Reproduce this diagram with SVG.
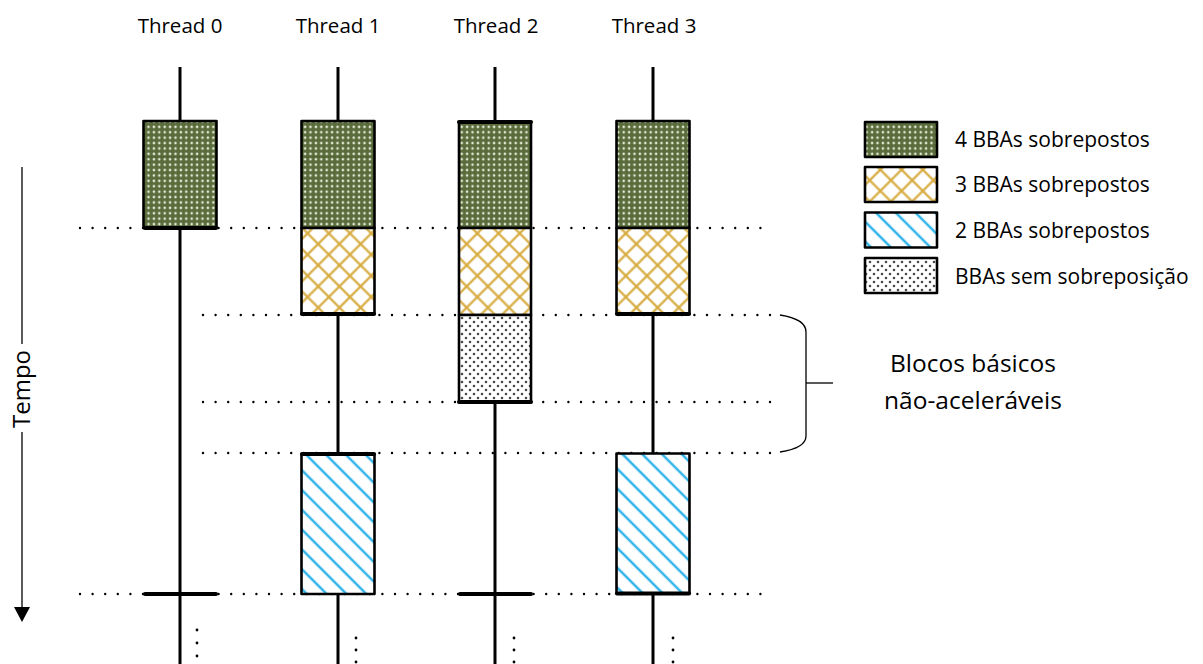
<svg xmlns="http://www.w3.org/2000/svg" width="1203" height="664" viewBox="0 0 1203 664">
  <style>
    text { font-family: "Open Sans", "Liberation Sans", sans-serif; fill: #000; }
    .hdr { font-size: 20.5px; text-anchor: middle; }
    .leg { font-size: 21px; }
    .note { font-size: 24.5px; text-anchor: middle; }
    .thread { stroke: #000; stroke-width: 3; fill: none; }
    .grid { stroke: #000; stroke-width: 2.4; stroke-linecap: round; stroke-dasharray: 0 12.6; fill: none; }
    .blk { stroke: #000; stroke-width: 2.6; stroke-linejoin: round; }
    .bar { stroke: #000; stroke-width: 4; stroke-linecap: round; }
    .g4 { fill: url(#p4); }
    .g3 { fill: url(#p3); }
    .g2 { fill: url(#p2); }
    .g1 { fill: url(#p1); }
    .ell { fill: #000; }
    .thin { stroke: #000; stroke-width: 1.3; fill: none; }
  </style>
  <defs>
    <!-- dotted grid on dark olive -->
    <pattern id="p4" width="5.4" height="5.4" patternUnits="userSpaceOnUse">
      <rect width="5.4" height="5.4" fill="#5a6c3b"/>
      <circle cx="2.7" cy="2.7" r="1.3" fill="#e4ead6"/>
    </pattern>
    <!-- gold diamond crosshatch -->
    <pattern id="p3" width="15" height="15" patternUnits="userSpaceOnUse" patternTransform="rotate(45)">
      <rect width="15" height="15" fill="#fff"/>
      <line x1="0" y1="7.5" x2="15" y2="7.5" stroke="#d6aa3c" stroke-width="2.2"/>
      <line x1="7.5" y1="0" x2="7.5" y2="15" stroke="#d6aa3c" stroke-width="2.2"/>
    </pattern>
    <!-- light blue wide diagonal -->
    <pattern id="p2" width="14" height="14" patternUnits="userSpaceOnUse" patternTransform="rotate(-45)">
      <rect width="14" height="14" fill="#fff"/>
      <line x1="7" y1="0" x2="7" y2="14" stroke="#30b4ea" stroke-width="2.5"/>
    </pattern>
    <!-- sparse grey dots -->
    <pattern id="p1" width="8" height="8" patternUnits="userSpaceOnUse">
      <rect width="8" height="8" fill="#fff"/>
      <circle cx="2" cy="2" r="1.3" fill="#4a4a4a"/>
      <circle cx="6" cy="6" r="1.3" fill="#4a4a4a"/>
    </pattern>
  </defs>

  <!-- column headings -->
  <g id="headers">
    <text class="hdr" x="180" y="33">Thread 0</text>
    <text class="hdr" x="338" y="33">Thread 1</text>
    <text class="hdr" x="496" y="33">Thread 2</text>
    <text class="hdr" x="654" y="33">Thread 3</text>
  </g>

  <!-- time axis -->
  <g id="tempo">
    <line class="thin" x1="22" y1="167" x2="22" y2="344"/>
    <line class="thin" x1="22" y1="432" x2="22" y2="608"/>
    <path d="M14,607 L30,607 L22,622 Z" fill="#000"/>
    <text x="0" y="0" font-size="24" text-anchor="middle" transform="translate(30,389) rotate(-90)">Tempo</text>
  </g>

  <!-- connectors: dotted sync lines and thread lifelines -->
  <g id="connectors">
    <line class="grid" x1="80" y1="228" x2="770" y2="228"/>
    <line class="grid" x1="203" y1="315" x2="770" y2="315"/>
    <line class="grid" x1="203" y1="402" x2="770" y2="402"/>
    <line class="grid" x1="203" y1="453" x2="770" y2="453"/>
    <line class="grid" x1="80" y1="594" x2="770" y2="594"/>
    <line class="thread" x1="180" y1="67" x2="180" y2="664"/>
    <line class="thread" x1="338" y1="67" x2="338" y2="664"/>
    <line class="thread" x1="495" y1="67" x2="495" y2="664"/>
    <line class="thread" x1="653" y1="67" x2="653" y2="664"/>
  </g>

  <!-- thread 0 -->
  <g id="t0">
    <rect class="blk g4" x="143.5" y="121" width="73" height="107"/>
    <line x1="144" y1="157" x2="216" y2="157" stroke="#3e4a28" stroke-width="0.8" opacity="0.5"/>
    <line class="bar" x1="145" y1="228" x2="216" y2="228"/>
    <line class="bar" x1="145" y1="594" x2="216" y2="594"/>
    <circle class="ell" cx="197" cy="630" r="1.4"/>
    <circle class="ell" cx="197" cy="643" r="1.4"/>
    <circle class="ell" cx="197" cy="656" r="1.4"/>
  </g>

  <!-- thread 1 -->
  <g id="t1">
    <rect class="blk g4" x="301.5" y="121" width="73" height="107"/>
    <line x1="302" y1="157" x2="374" y2="157" stroke="#3e4a28" stroke-width="0.8" opacity="0.5"/>
    <rect class="blk g3" x="301.5" y="228" width="73" height="86"/>
    <line class="bar" x1="302" y1="314" x2="374" y2="314"/>
    <rect class="blk g2" x="301.5" y="454" width="73" height="140"/>
    <line class="bar" x1="302" y1="454" x2="374" y2="454"/>
    <circle class="ell" cx="356" cy="638" r="1.4"/>
    <circle class="ell" cx="356" cy="650" r="1.4"/>
    <circle class="ell" cx="356" cy="662" r="1.4"/>
  </g>

  <!-- thread 2 -->
  <g id="t2">
    <rect class="blk g4" x="459" y="122" width="72" height="106"/>
    <line class="bar" x1="459" y1="122" x2="531" y2="122"/>
    <rect class="blk g3" x="459" y="228" width="72" height="87"/>
    <rect class="blk g1" x="459" y="315" width="72" height="87"/>
    <line class="bar" x1="459" y1="402" x2="531" y2="402"/>
    <line class="bar" x1="460" y1="594" x2="531" y2="594"/>
    <circle class="ell" cx="514" cy="638" r="1.4"/>
    <circle class="ell" cx="514" cy="650" r="1.4"/>
    <circle class="ell" cx="514" cy="662" r="1.4"/>
  </g>

  <!-- thread 3 -->
  <g id="t3">
    <rect class="blk g4" x="616.5" y="121" width="73" height="107"/>
    <rect class="blk g3" x="616.5" y="228" width="73" height="86"/>
    <line class="bar" x1="617" y1="314" x2="689" y2="314"/>
    <rect class="blk g2" x="616.5" y="453.5" width="73" height="140"/>
    <line class="bar" x1="617" y1="593.5" x2="689" y2="593.5"/>
    <circle class="ell" cx="673" cy="638" r="1.4"/>
    <circle class="ell" cx="673" cy="650" r="1.4"/>
    <circle class="ell" cx="673" cy="662" r="1.4"/>
  </g>

  <!-- brace with note -->
  <g id="note">
    <path class="thin" d="M780,315 Q806,319 806,332 L806,436 Q806,448 780,452"/>
    <line class="thin" x1="806" y1="383" x2="833" y2="383"/>
    <text class="note" x="973" y="372">Blocos básicos</text>
    <text class="note" x="973" y="409">não-aceleráveis</text>
  </g>

  <!-- legend -->
  <g id="legend">
    <rect class="blk g4" x="865" y="122" width="72" height="35"/>
    <text class="leg" x="955" y="147">4 BBAs sobrepostos</text>
    <rect class="blk g3" x="865" y="167" width="72" height="35"/>
    <text class="leg" x="955" y="192">3 BBAs sobrepostos</text>
    <rect class="blk g2" x="865" y="212.5" width="72" height="35"/>
    <text class="leg" x="955" y="238">2 BBAs sobrepostos</text>
    <rect class="blk g1" x="865" y="258" width="72" height="35"/>
    <text class="leg" x="955" y="284">BBAs sem sobreposição</text>
  </g>
</svg>
